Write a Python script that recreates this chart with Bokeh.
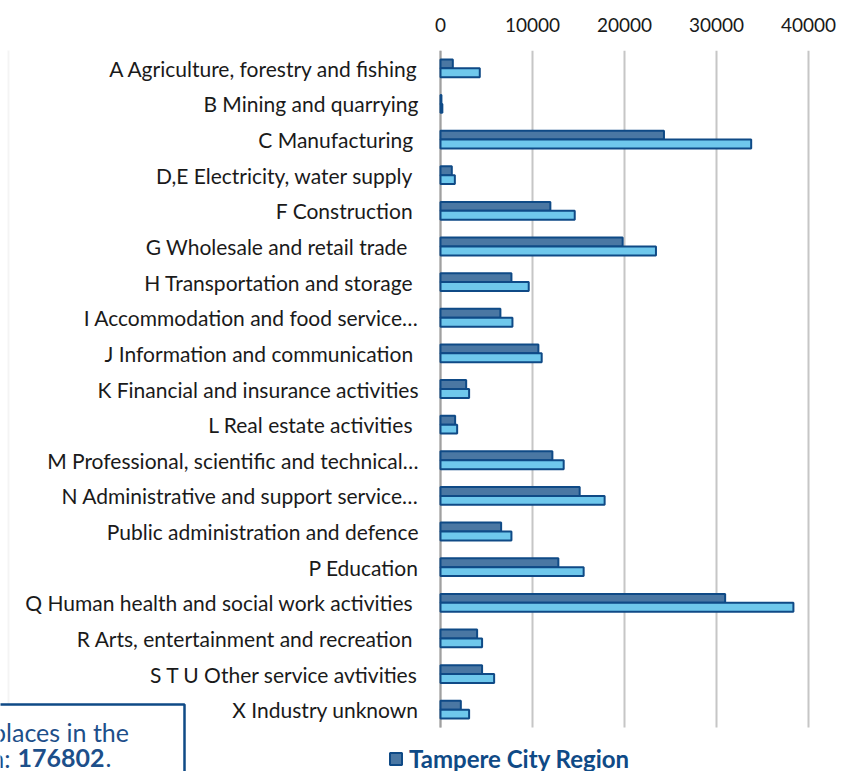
from bokeh.plotting import figure
from bokeh.models import (Range1d, Legend, LegendItem, Label, LabelSet,
                          ColumnDataSource, FixedTicker, BoxAnnotation)
from bokeh.core.properties import value
from bokeh.transform import dodge
from bokeh.embed import file_html
from bokeh.resources import INLINE

industries = [
    "A Agriculture, forestry and fishing",
    "B Mining and quarrying",
    "C Manufacturing ",
    "D,E Electricity, water supply ",
    "F Construction ",
    "G  Wholesale and retail trade ",
    "H Transportation and storage ",
    "I Accommodation and food service\u2026",
    "J Information and communication ",
    "K Financial and insurance activities",
    "L Real estate activities ",
    "M Professional, scientific and technical\u2026",
    "N Administrative and support service\u2026",
    "Public administration and defence",
    "P Education",
    "Q Human health and social work activities ",
    "R Arts, entertainment and recreation ",
    "S T U Other service avtivities",
    "X Industry unknown",
]
tampere_city_region = [1340, 100, 24290, 1230, 11940, 19800, 7710, 6510, 10640, 2790,
                       1590, 12160, 15130, 6590, 12810, 30940, 3980, 4520, 2210]
pirkanmaa = [4270, 200, 33770, 1560, 14590, 23420, 9590, 7820, 11000, 3110,
             1810, 13390, 17840, 7710, 15560, 38360, 4520, 5830, 3110]
x_ticks = [0, 10000, 20000, 30000, 40000]
series_names = ["Tampere City Region", "Pirkanmaa"]
note_line1 = "Total number of workplaces in the"
note_line2 = "Tampere City Region: "
note_total = "176802"

FONT = "Lato"
NAVY = "#0f4a86"
TEXTBLUE = "#1d4f8a"
DARK = "#4a77a3"
LIGHT = "#6fc8ec"
GRID = "#c6c6c6"
AXIS = "#a0a0a0"

# layout geometry (pixels)
W, H = 846, 771
TOP = 50                 # frame top (below the tick labels)
PLOT_LEFT = 440          # x = 0
PLOT_X40K = 808          # x = 40000
ROW_PX = 677 / len(industries)

n = len(industries)
px_per_unit = (PLOT_X40K - PLOT_LEFT) / x_ticks[-1]
x_start = -PLOT_LEFT / px_per_unit
x_end = (W - PLOT_LEFT) / px_per_unit
y_top = -0.5
y_bottom = y_top + (H - TOP) / ROW_PX

src = ColumnDataSource(dict(industry=industries, idx=list(range(n)),
                            tcr=tampere_city_region, pir=pirkanmaa))
grid_src = ColumnDataSource(dict(tick=x_ticks, y0=[-0.5] * len(x_ticks),
                                 y1=[n - 0.5] * len(x_ticks)))

p = figure(width=W, height=H,
           x_range=Range1d(x_start, x_end),
           y_range=Range1d(y_bottom, y_top),
           x_axis_location="above", y_axis_location=None,
           output_backend="svg", toolbar_location=None,
           min_border_left=0, min_border_right=0,
           min_border_top=TOP, min_border_bottom=0)
p.outline_line_color = None
p.background_fill_color = "white"
p.border_fill_color = "white"
p.grid.visible = False

# outer chart border (light grey)
p.add_layout(BoxAnnotation(left=8, right=W + 50, top=1, bottom=H + 50,
                           left_units="canvas", right_units="canvas",
                           top_units="canvas", bottom_units="canvas",
                           fill_alpha=0, line_color="#d9d9d9", line_width=2,
                           level="underlay"))

# vertical grid lines at the ticks, over the category rows only
p.segment(x0="tick", x1="tick", y0="y0", y1="y1", line_color=GRID, line_width=2,
          source=grid_src)
# value axis line at x = 0
p.segment(x0=[0], x1=[0], y0=[-0.5], y1=[n - 0.5], line_color=AXIS, line_width=2)

r_dark = p.hbar(y=dodge("idx", -0.125), right="tcr", left=0,
                height=0.25, fill_color=DARK, line_color=NAVY, line_width=2, source=src)
r_light = p.hbar(y=dodge("idx", 0.125), right="pir", left=0,
                 height=0.25, fill_color=LIGHT, line_color=NAVY, line_width=2, source=src)

# category labels
p.add_layout(LabelSet(x=0, y="idx", text="industry", source=src, x_offset=-22,
                      text_align="right", text_baseline="middle",
                      text_font=value(FONT), text_font_size="21px",
                      text_color="#1a1a1a"))

# x axis (top)
xa = p.xaxis[0]
xa.ticker = FixedTicker(ticks=x_ticks)
xa.axis_line_color = None
xa.major_tick_line_color = None
xa.minor_tick_line_color = None
xa.major_tick_out = 0
xa.major_tick_in = 0
xa.major_label_standoff = 19
xa.major_label_text_font = FONT
xa.major_label_text_font_size = "19px"
xa.major_label_text_color = "#1a1a1a"

# note box (cut by the left and bottom edges, as in the reference)
p.add_layout(Label(x=184, y=704, x_units="canvas", y_units="canvas", text=note_line1,
                   text_align="right", text_baseline="top", text_font=FONT,
                   text_font_size="25px", text_color=TEXTBLUE,
                   padding=dict(left=10, right=54, top=12, bottom=120),
                   border_line_color=NAVY, border_line_width=2.5,
                   background_fill_color="white"))
p.add_layout(Label(x=17, y=757, x_units="canvas", y_units="canvas", text=note_line2,
                   text_align="right", text_baseline="middle", text_font=FONT,
                   text_font_size="25px", text_color=TEXTBLUE))
p.add_layout(Label(x=17, y=757, x_units="canvas", y_units="canvas", text=note_total,
                   text_align="left", text_baseline="middle", text_font=FONT,
                   text_font_size="25px", text_font_style="bold", text_color=TEXTBLUE))
p.add_layout(Label(x=105, y=757, x_units="canvas", y_units="canvas", text=".",
                   text_align="left", text_baseline="middle", text_font=FONT,
                   text_font_size="25px", text_color=TEXTBLUE))

# legend (at the bottom edge, as in the reference)
legend = Legend(items=[LegendItem(label=series_names[0], renderers=[r_dark])],
                location=(388, -2), orientation="horizontal",
                border_line_color=None, background_fill_alpha=0,
                padding=0, margin=0, spacing=0,
                glyph_width=15, glyph_height=15, label_standoff=6,
                label_text_font=FONT, label_text_font_size="24px",
                label_text_font_style="bold", label_text_color=NAVY)
p.add_layout(legend, "center")

open("out.html", "w").write(file_html(p, INLINE))
